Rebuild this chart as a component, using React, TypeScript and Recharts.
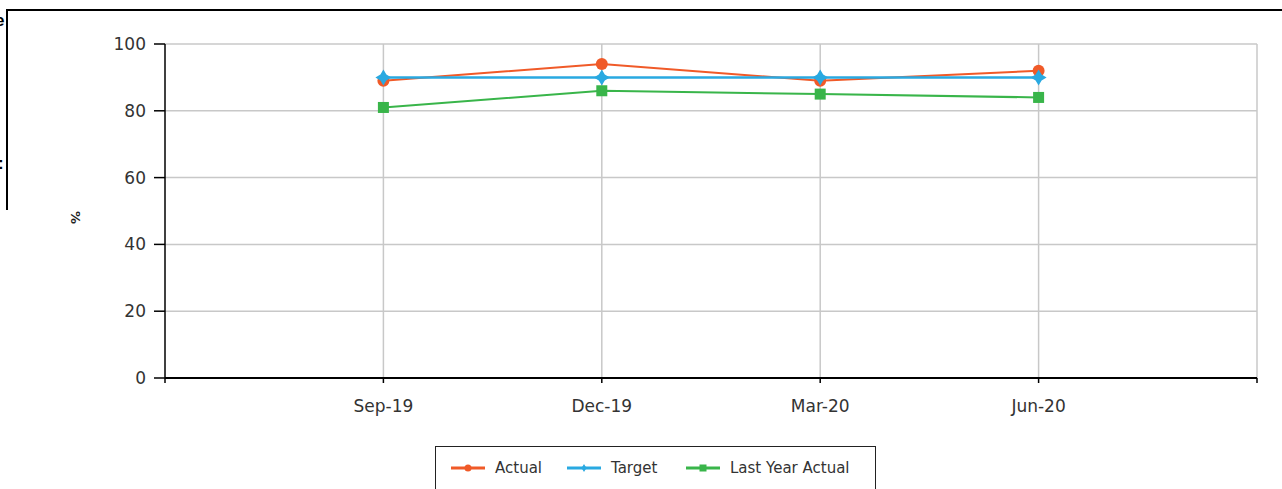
import React from 'react';
import { LineChart, Line, XAxis, YAxis, CartesianGrid } from 'recharts';

const categories = ['Sep-19', 'Dec-19', 'Mar-20', 'Jun-20'];
const actual = [89, 94, 89, 92];
const target = [90, 90, 90, 90];
const lastYearActual = [81, 86, 85, 84];
const yTicks = [0, 20, 40, 60, 80, 100];

const seriesNames = ['Actual', 'Target', 'Last Year Actual'];
const seriesColors = ['#F05A28', '#29A9E1', '#39B54A'];

const data = categories.map((c, i) => ({
  x: i + 1,
  cat: c,
  actual: actual[i],
  target: target[i],
  lastYear: lastYearActual[i],
}));

const xTicks = [0, 1, 2, 3, 4, 5];
const xLabel = (v: number) => categories[v - 1] ?? '';

const CircleDot = (props: any) => {
  const { cx, cy, index } = props;
  return <circle key={`c${index}`} cx={cx} cy={cy} r={6} fill={seriesColors[0]} />;
};
const StarDot = (props: any) => {
  const { cx, cy, index } = props;
  const pts = [
    [0, -8], [3, -3], [8, 0], [3, 3], [0, 8], [-3, 3], [-8, 0], [-3, -3],
  ].map(([dx, dy]) => `${cx + dx},${cy + dy}`).join(' ');
  return <polygon key={`s${index}`} points={pts} fill={seriesColors[1]} />;
};
const SquareDot = (props: any) => {
  const { cx, cy, index } = props;
  return <rect key={`q${index}`} x={cx - 5.5} y={cy - 5.5} width={11} height={11} fill={seriesColors[2]} />;
};

const tickFont = { fontFamily: 'DejaVu Sans', fontSize: 17, fill: '#333' };

export default function App() {
  return (
    <div style={{ position: 'absolute', left: 0, top: 0, width: 1282, height: 489, overflow: 'hidden', background: '#fff' }}>
      {/* frame fragments */}
      <div style={{ position: 'absolute', left: 7, top: 9, width: 1275, height: 2, background: '#000' }} />
      <div style={{ position: 'absolute', left: 6, top: 9, width: 2, height: 201, background: '#000' }} />
      <div style={{ position: 'absolute', left: -5, top: 11, fontFamily: 'Liberation Sans', fontWeight: 'bold', fontSize: 17, color: '#000', lineHeight: '20px' }}>e</div>
      <div style={{ position: 'absolute', left: -2, top: 154, fontFamily: 'Liberation Sans', fontWeight: 'bold', fontSize: 17, color: '#000', lineHeight: '20px' }}>:</div>

      <LineChart
        width={1282}
        height={489}
        data={data}
        margin={{ top: 44, right: 25, left: 0, bottom: 81 }}
        style={{ position: 'absolute', left: 0, top: 0 }}
      >
        <CartesianGrid stroke="#c8c8c8" strokeWidth={1.5} verticalValues={[1, 2, 3, 4, 5]} horizontalValues={[20, 40, 60, 80, 100]} />
        <XAxis
          dataKey="x"
          type="number"
          domain={[0, 5]}
          ticks={xTicks}
          tickFormatter={xLabel}
          interval={0}
          height={30}
          tick={tickFont}
          tickSize={5}
          tickMargin={17}
          axisLine={{ stroke: '#000', strokeWidth: 2 }}
          tickLine={{ stroke: '#000', strokeWidth: 1.5 }}
        />
        <YAxis
          type="number"
          domain={[0, 100]}
          ticks={yTicks}
          width={165}
          tick={tickFont}
          tickSize={11}
          tickMargin={8}
          axisLine={{ stroke: '#000', strokeWidth: 1.5 }}
          tickLine={{ stroke: '#000', strokeWidth: 1.5 }}
          label={{ value: '%', angle: 90, position: 'insideLeft', offset: 76, style: { fontFamily: 'DejaVu Sans', fontSize: 13, fontWeight: 'bold', fill: '#222' } }}
        />
        <Line dataKey="actual" name={seriesNames[0]} stroke={seriesColors[0]} strokeWidth={2} dot={CircleDot} activeDot={false} isAnimationActive={false} />
        <Line dataKey="lastYear" name={seriesNames[2]} stroke={seriesColors[2]} strokeWidth={2} dot={SquareDot} activeDot={false} isAnimationActive={false} />
        <Line dataKey="target" name={seriesNames[1]} stroke={seriesColors[1]} strokeWidth={2.5} dot={StarDot} activeDot={false} isAnimationActive={false} />
      </LineChart>

      {/* legend */}
      <div style={{ position: 'absolute', left: 435, top: 446, width: 441, height: 50, border: '1.5px solid #222', boxSizing: 'border-box', background: '#fff' }}>
        {seriesNames.map((n, i) => {
          const lefts = [15, 131, 250];
          return (
            <div key={n} style={{ position: 'absolute', left: lefts[i], top: 10, display: 'flex', alignItems: 'center', height: 22 }}>
              <svg width={34} height={10} style={{ marginRight: 10 }}>
                <line x1={0} y1={5} x2={34} y2={5} stroke={seriesColors[i]} strokeWidth={3} />
                {i === 0 && <circle cx={17} cy={5} r={3.5} fill={seriesColors[i]} />}
                {i === 1 && <polygon points="17,1 18.5,3.5 21,5 18.5,6.5 17,9 15.5,6.5 13,5 15.5,3.5" fill={seriesColors[i]} />}
                {i === 2 && <rect x={13.5} y={1.5} width={7} height={7} fill={seriesColors[i]} />}
              </svg>
              <span style={{ fontFamily: 'DejaVu Sans', fontSize: 15, color: '#333', whiteSpace: 'nowrap' }}>{n}</span>
            </div>
          );
        })}
      </div>
    </div>
  );
}
